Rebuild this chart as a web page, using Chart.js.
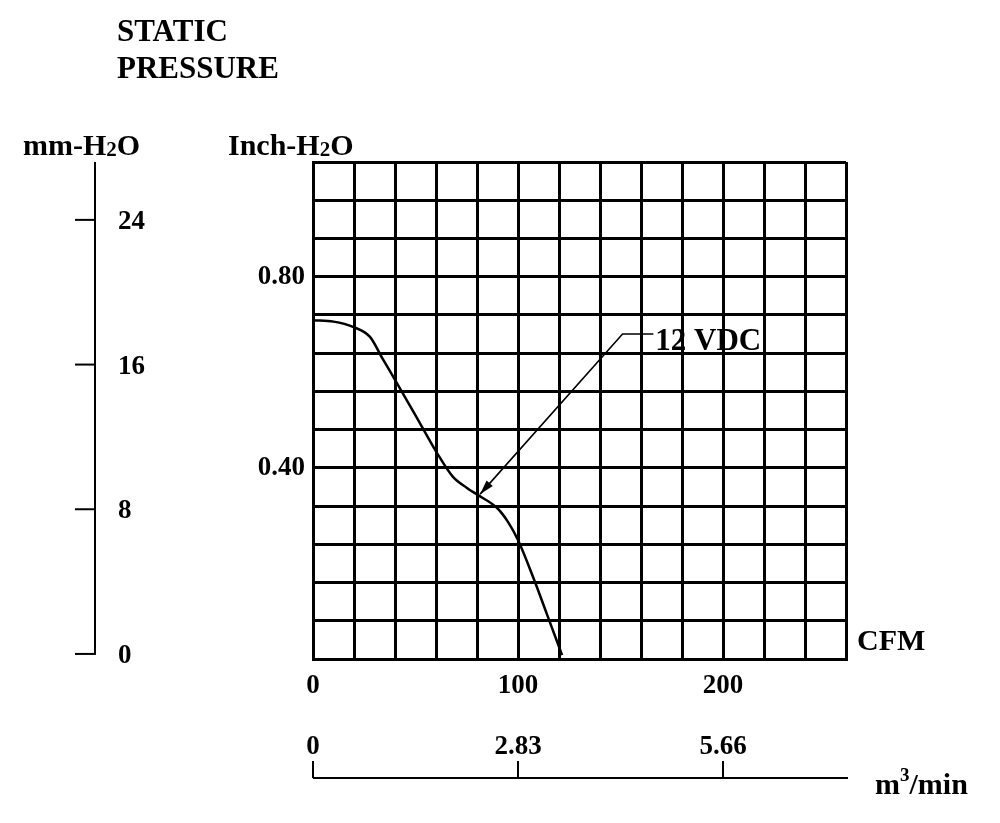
<!DOCTYPE html>
<html>
<head>
<meta charset="utf-8">
<script src="https://cdn.jsdelivr.net/npm/chart.js@4.4.1/dist/chart.umd.min.js"></script>
<style>
  html, body { margin: 0; padding: 0; background: #fff; }
  canvas { display: block; }
</style>
</head>
<body>
<canvas id="fanChart" width="1000" height="823"></canvas>
<script>
// Fan curve: airflow (CFM) vs static pressure (inch-H2O)
const flowCfm    = [0, 10, 19.5, 27.8, 34, 41, 50, 60.5, 68.3, 75.1, 80.5, 89.8, 95.1, 100, 107.3, 114, 121.5];
const pressureIn = [0.709, 0.706, 0.695, 0.674, 0.628, 0.577, 0.51, 0.431, 0.381, 0.358, 0.343, 0.316, 0.287, 0.249, 0.172, 0.095, 0.008];

// Tick labels on the four scales
const cfmTicks  = [0, 100, 200];
const inchTicks = [0.40, 0.80];
const mmTicks   = [0, 8, 16, 24];
const m3Ticks   = [0, 2.83, 5.66];
const M3_PER_CFM = 0.0283;

// Callout: arrow tip on the curve, elbow and text start (data units)
const curveName  = "12 VDC";
const arrowTip   = [81.5, 0.345];
const arrowElbow = [151, 0.68];
const labelStart = [167, 0.68];

const SERIF = "'Liberation Serif', 'Times New Roman', serif";
const font = (size) => `bold ${size}px ${SERIF}`;

// draw text pieces one after another (for subscripts / superscripts)
function drawParts(ctx, parts, x, y) {
  ctx.textAlign = "left";
  ctx.textBaseline = "alphabetic";
  parts.forEach(([txt, size, dy]) => {
    ctx.font = font(size);
    ctx.fillText(txt, x, y + dy);
    x += ctx.measureText(txt).width;
  });
}

const overlay = {
  id: "overlay",
  afterDraw(chart) {
    const ctx = chart.ctx;
    const xs = chart.scales.x, ys = chart.scales.y, mm = chart.scales.mm;
    const area = chart.chartArea;
    ctx.save();
    ctx.fillStyle = "#000";
    ctx.strokeStyle = "#000";

    // titles
    ctx.font = font(31);
    ctx.textAlign = "left";
    ctx.textBaseline = "middle";
    ctx.fillText("STATIC", 117, 33);
    ctx.fillText("PRESSURE", 117, 70);
    drawParts(ctx, [["mm-H", 30, 0], ["2", 21, 1], ["O", 30, 0]], 23, 155);
    drawParts(ctx, [["Inch-H", 30, 0], ["2", 21, 1], ["O", 30, 0]], 228, 155);

    // mm-H2O scale on the far left
    const axX = 95;
    ctx.lineWidth = 2;
    ctx.beginPath();
    ctx.moveTo(axX, area.top);
    ctx.lineTo(axX, mm.getPixelForValue(0));
    ctx.stroke();
    ctx.font = font(27);
    ctx.textAlign = "left";
    ctx.textBaseline = "middle";
    mmTicks.forEach(v => {
      const py = mm.getPixelForValue(v);
      ctx.beginPath();
      ctx.moveTo(axX - 20, py);
      ctx.lineTo(axX + 1, py);
      ctx.stroke();
      ctx.fillText(String(v), 118, py + 2);
    });

    // CFM unit
    ctx.font = font(30);
    ctx.fillText("CFM", area.right + 11, area.bottom - 17);

    // m3/min scale below
    const baseY = 778;
    const x0 = xs.getPixelForValue(0);
    ctx.lineWidth = 2;
    ctx.beginPath();
    ctx.moveTo(x0, baseY);
    ctx.lineTo(area.right + 2, baseY);
    ctx.stroke();
    ctx.font = font(27);
    ctx.textAlign = "center";
    m3Ticks.forEach(v => {
      const px = xs.getPixelForValue(v / M3_PER_CFM);
      ctx.beginPath();
      ctx.moveTo(px, baseY);
      ctx.lineTo(px, baseY - 17);
      ctx.stroke();
      ctx.fillText(v === 0 ? "0" : v.toFixed(2), px, 747);
    });
    drawParts(ctx, [["m", 30, 0], ["3", 19, -13], ["/min", 30, 0]], 875, 794);

    // callout arrow
    const tx = xs.getPixelForValue(arrowTip[0]), ty = ys.getPixelForValue(arrowTip[1]);
    const ex = xs.getPixelForValue(arrowElbow[0]), ey = ys.getPixelForValue(arrowElbow[1]);
    const lx = xs.getPixelForValue(labelStart[0]), ly = ys.getPixelForValue(labelStart[1]);
    ctx.lineWidth = 1.6;
    ctx.beginPath();
    ctx.moveTo(lx - 2, ly);
    ctx.lineTo(ex, ey);
    ctx.lineTo(tx, ty);
    ctx.stroke();
    const ang = Math.atan2(ty - ey, tx - ex);
    const len = 15, half = 0.28;
    ctx.beginPath();
    ctx.moveTo(tx, ty);
    ctx.lineTo(tx - len * Math.cos(ang - half), ty - len * Math.sin(ang - half));
    ctx.lineTo(tx - len * Math.cos(ang + half), ty - len * Math.sin(ang + half));
    ctx.closePath();
    ctx.fill();
    ctx.font = font(31);
    ctx.textAlign = "left";
    ctx.textBaseline = "middle";
    ctx.fillText(curveName, lx, ly + 8);

    ctx.restore();
  }
};

const ctx = document.getElementById("fanChart").getContext("2d");
new Chart(ctx, {
  type: "line",
  data: {
    datasets: [{
      data: flowCfm.map((x, i) => ({ x, y: pressureIn[i] })),
      borderColor: "#000",
      borderWidth: 2.5,
      pointRadius: 0,
      cubicInterpolationMode: "monotone",
      fill: false
    }]
  },
  options: {
    responsive: false,
    animation: false,
    devicePixelRatio: 1,
    layout: { padding: { left: 233, top: 162, right: 154, bottom: 124 } },
    plugins: { legend: { display: false }, tooltip: { enabled: false } },
    scales: {
      x: {
        type: "linear",
        min: 0,
        max: 260,
        grid: { color: "#000", lineWidth: 3, drawTicks: false },
        border: { color: "#000", width: 3 },
        ticks: {
          stepSize: 20,
          autoSkip: false,
          maxRotation: 0,
          padding: 11,
          color: "#000",
          font: { family: SERIF, size: 27, weight: "bold" },
          callback: v => cfmTicks.includes(v) ? String(v) : ""
        },
        afterFit: s => { s.height = 40; }
      },
      y: {
        min: 0,
        max: 1.04,
        grid: { color: "#000", lineWidth: 3, drawTicks: false },
        border: { color: "#000", width: 3 },
        ticks: {
          stepSize: 0.08,
          autoSkip: false,
          padding: 8,
          color: "#000",
          font: { family: SERIF, size: 27, weight: "bold" },
          callback: v => {
            const t = inchTicks.find(t => Math.abs(t - v) < 1e-6);
            return t === undefined ? "" : t.toFixed(2);
          }
        },
        afterFit: s => { s.width = 80; }
      },
      mm: { type: "linear", position: "left", display: false, min: -0.28, max: 27.2 }
    }
  },
  plugins: [overlay]
});
</script>
</body>
</html>
